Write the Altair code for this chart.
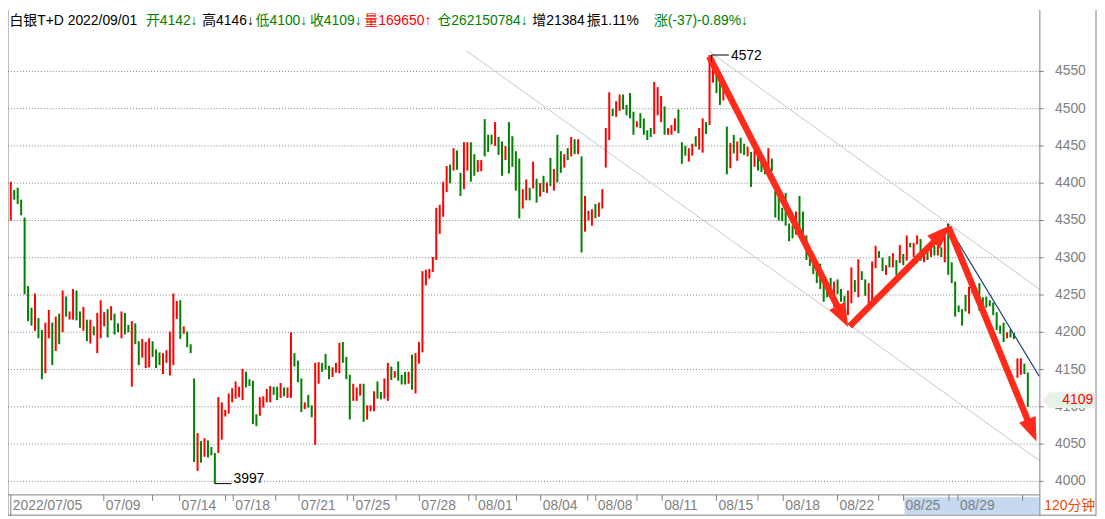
import math
import altair as alt
import pandas as pd

# ---------------- data ----------------
HIGH = [4402,4391,4394,4378,4354,4262,4233,4252,4219,4203,
        4213,4230,4213,4221,4225,4256,4248,4228,4258,4256,
        4228,4234,4217,4217,4208,4226,4243,4227,4231,4235,
        4225,4212,4228,4226,4210,4215,4212,4188,4191,4187,
        4192,4188,4177,4173,4172,4176,4201,4252,4242,4243,
        4208,4201,4184,4138,4065,4054,4058,4055,4046,4038,
        4113,4106,4096,4118,4125,4134,4127,4151,4147,4137,
        4135,4090,4113,4114,4124,4128,4127,4127,4132,4126,
        4126,4200,4172,4162,4138,4106,4116,4102,4159,4160,
        4159,4171,4155,4153,4159,4186,4187,4167,4143,4131,
        4126,4131,4131,4102,4102,4121,4134,4120,4138,4159,
        4154,4148,4161,4143,4147,4147,4170,4172,4187,4282,
        4284,4285,4301,4367,4371,4402,4423,4425,4447,4444,
        4414,4455,4455,4455,4439,4431,4431,4486,4465,4465,
        4482,4462,4456,4450,4482,4463,4443,4433,4392,4405,
        4394,4429,4406,4400,4410,4401,4434,4419,4465,4443,
        4439,4447,4462,4459,4459,4436,4383,4363,4365,4372,
        4374,4392,4474,4522,4500,4510,4519,4519,4505,4521,
        4496,4483,4494,4487,4471,4474,4536,4529,4517,4503,
        4474,4478,4487,4499,4455,4450,4447,4453,4463,4474,
        4487,4482,4572,4561,4548,4540,4528,4476,4454,4465,
        4456,4461,4453,4449,4442,4444,4442,4432,4428,4447,
        4433,4390,4387,4367,4387,4346,4343,4362,4383,4362,
        4330,4309,4296,4293,4292,4270,4263,4273,4268,4271,
        4258,4249,4256,4287,4270,4298,4282,4271,4266,4295,
        4316,4309,4300,4290,4302,4306,4297,4317,4305,4330,
        4320,4320,4330,4325,4313,4310,4313,4316,4326,4314,
        4330,4346,4294,4268,4236,4231,4250,4261,4266,4256,
        4266,4247,4248,4243,4240,4227,4209,4213,4200,4204,
        4199,4165,4165,4158,4146]
LOW = [4350,4378,4372,4357,4251,4215,4209,4202,4192,4137,
       4145,4192,4156,4175,4184,4200,4221,4217,4217,4216,
       4206,4202,4188,4185,4196,4172,4192,4208,4193,4216,
       4197,4200,4192,4197,4200,4127,4184,4156,4166,4152,
       4153,4167,4152,4156,4144,4159,4142,4156,4218,4191,
       4198,4180,4172,4026,4014,4025,4033,4032,4035,3997,
       4038,4056,4087,4091,4106,4111,4113,4109,4126,4128,
       4077,4074,4088,4099,4106,4106,4116,4109,4112,4114,
       4112,4112,4154,4133,4093,4097,4099,4086,4049,4131,
       4147,4150,4137,4140,4146,4145,4159,4137,4083,4108,
       4108,4115,4080,4083,4094,4094,4111,4110,4111,4108,
       4136,4139,4135,4130,4130,4131,4123,4118,4158,4173,
       4263,4272,4281,4297,4332,4355,4388,4400,4417,4418,
       4383,4392,4417,4402,4410,4415,4416,4436,4442,4452,
       4450,4438,4410,4431,4413,4422,4390,4353,4366,4377,
       4377,4393,4374,4382,4388,4387,4396,4390,4401,4414,
       4421,4431,4436,4439,4439,4307,4335,4350,4343,4353,
       4355,4366,4421,4458,4490,4489,4497,4499,4491,4487,
       4465,4475,4474,4465,4458,4462,4466,4491,4482,4465,
       4465,4465,4470,4467,4426,4437,4429,4437,4449,4445,
       4441,4466,4478,4535,4521,4505,4511,4412,4420,4440,
       4430,4440,4438,4436,4395,4422,4417,4415,4412,4412,
       4416,4354,4350,4349,4343,4322,4326,4331,4335,4333,
       4297,4289,4278,4266,4258,4241,4247,4249,4234,4251,
       4241,4235,4223,4239,4254,4247,4270,4249,4237,4237,
       4286,4300,4282,4277,4287,4287,4277,4293,4290,4296,
       4314,4301,4318,4296,4294,4297,4301,4303,4303,4301,
       4294,4277,4266,4221,4227,4209,4228,4225,4252,4243,
       4229,4227,4233,4235,4223,4203,4198,4187,4192,4193,
       4191,4139,4143,4144,4100]
# r = rising (red), g = falling (green)
DIRECTION = list(
    "rggggggrgg" "rrgrgrgrrg" "grgrgrrrgr" "ggrggrggrr" "rgggrrrrrg"
    "rgggrgrggg" "rrrrrrrrgg" "ggrrrrggrg" "rrgggrggrr" "gggrrrgggr"
    "rrgrrrggrr" "grgggrgrrr" "rrrrrrrgrg" "grrggrrggg" "rggrggggrr"
    "grgrgrgrgg" "rgrgrgrrrg" "rrrrgrrggg" "grggggrrrg" "rrrgggrrgr"
    "rgrrggrgrg" "rggrgrgggr" "gggggggrgg" "ggggggggrg" "ggrrgrggrr"
    "rggrgrgrgr" "grrgrgrgrg" "rggggggrrg" "ggggggggrg" "grrgg")

Y_TICKS = [4000, 4050, 4100, 4150, 4200, 4250, 4300, 4350, 4400, 4450, 4500, 4550]
X_LABELS = ["2022/07/05", "07/09", "07/14", "07/18", "07/21", "07/25", "07/28", "08/01",
            "08/04", "08/08", "08/11", "08/15", "08/18", "08/22", "08/25", "08/29"]
X_LABEL_POS = [0.0, 26.9, 48.8, 64.3, 83.3, 99.1, 118.1, 134.5,
               153.2, 169.1, 188.3, 204.0, 223.3, 239.0, 258.1, 273.8]
X_TICK_POS = [26.9, 41.0, 48.8, 62.1, 64.3, 76.6, 83.3, 97.3, 99.1, 111.4, 118.1,
              132.4, 134.5, 146.2, 153.2, 166.8, 169.1, 181.0, 188.3, 204.0, 216.0,
              223.3, 239.0, 250.9, 258.1, 271.2, 273.8, 292.5]

HEADER_TEXT = ["白银T+D 2022/09/01", "开4142↓", "高4146↓", "低4100↓", "收4109↓",
               "量169650↑", "仓262150784↓", "增21384", "振1.11%", "涨(-37)-0.89%↓"]
HEADER_COLOR = ["#000000", "#008000", "#000000", "#008000", "#008000",
                "#ff0000", "#008000", "#000000", "#000000", "#008000"]
HEADER_X = [3, 141, 198, 252, 307, 362, 436, 532, 587, 655]

LAST_PRICE = 4109
PEAK = (202, 4572)
TROUGH = (59, 3997)
# trend lines (bar index, price)
GRAY_LINES = [(131.6, 4578, 297.6, 4027), (201.6, 4578, 297.6, 4257)]
BLUE_LINE = [(270.7, 4345, 297.3, 4141)]
ARROWS = [(201.9, 4570, 242.06, 4207), (242.5, 4208, 271.6, 4343.6), (271.1, 4341, 296.5, 4053.5)]

# ---------------- layout helpers ----------------
W, H = 1097, 511
KX, KY = 0.99564, 0.99512
FONT = "Liberation Sans, Arial, Noto Sans CJK SC"
GRAY = "#808080"


def cx(xr):
    return (xr - 1.5) * KX


def cy(yr):
    return (yr - 6.0) * KY


def px_i(i):
    return cx(4.3 + 3.5 * i)


def py_v(v):
    return cy(68.3 + (4550 - v) * 0.75455)


def i_px(p):
    return (p / KX + 1.5 - 4.3) / 3.5


def v_py(p):
    return 4550 - ((p / KY + 6.0) - 68.3) / 0.75455


X_DOM = [i_px(0), i_px(W)]
Y_DOM = [v_py(H), v_py(0)]
XS = alt.Scale(domain=X_DOM, nice=False, zero=False)
YS = alt.Scale(domain=Y_DOM, nice=False, zero=False)


def X(f):
    return alt.X(f, type="quantitative", scale=XS, axis=None)


def Y(f):
    return alt.Y(f, type="quantitative", scale=YS, axis=None)


one = pd.DataFrame({"a": [0]})

# ---------------- layers ----------------
bars = pd.DataFrame({"i": list(range(len(HIGH))), "h": HIGH, "l": LOW, "c": DIRECTION})

grid = alt.Chart(pd.DataFrame({"v": Y_TICKS})).mark_rule(
    color=GRAY, strokeDash=[1, 2], strokeWidth=1).encode(
    y=Y("v"), x=alt.value(cx(1.5)), x2=alt.value(cx(1045.3)))

gl = pd.DataFrame(GRAY_LINES, columns=["i0", "v0", "i1", "v1"])
gray_lines = alt.Chart(gl).mark_rule(color="#c8c8c8", strokeWidth=1).encode(
    x=X("i0"), y=Y("v0"), x2=alt.X2("i1"), y2=alt.Y2("v1"))

bar_layer = alt.Chart(bars).mark_rule(strokeWidth=2).encode(
    x=X("i"), y=Y("l"), y2=alt.Y2("h"),
    color=alt.Color("c:N", scale=alt.Scale(domain=["r", "g"], range=["#ff0000", "#008000"]), legend=None))

bl = pd.DataFrame(BLUE_LINE, columns=["i0", "v0", "i1", "v1"])
blue_line = alt.Chart(bl).mark_rule(color="#1a3a80", strokeWidth=1.2).encode(
    x=X("i0"), y=Y("v0"), x2=alt.X2("i1"), y2=alt.Y2("v1"))

# arrows
HEAD = 24.0
shafts, heads = [], []
for (i0, v0, i1, v1) in ARROWS:
    x0, y0, x1, y1 = px_i(i0), py_v(v0), px_i(i1), py_v(v1)
    dx, dy = x1 - x0, y1 - y0
    n = math.hypot(dx, dy)
    ux, uy = dx / n, dy / n
    sx, sy = x1 - ux * HEAD * 0.75, y1 - uy * HEAD * 0.75
    hx, hy = x1 - ux * HEAD / 2, y1 - uy * HEAD / 2
    ang = math.degrees(math.atan2(dx, -dy)) % 360
    shafts.append({"i0": i0, "v0": v0, "i1": i_px(sx), "v1": v_py(sy)})
    heads.append({"i": i_px(hx), "v": v_py(hy), "ang": ang})
ARROW_RED = "#ff2a1a"
shaft_layer = alt.Chart(pd.DataFrame(shafts)).mark_rule(
    color=ARROW_RED, strokeWidth=6.5, strokeCap="butt").encode(
    x=X("i0"), y=Y("v0"), x2=alt.X2("i1"), y2=alt.Y2("v1"))
head_layer = alt.Chart(pd.DataFrame(heads)).mark_point(
    shape="M0,-1L0.75,1L-0.75,1Z", filled=True, color=ARROW_RED, opacity=1,
    size=HEAD * HEAD, strokeWidth=0).encode(
    x=X("i"), y=Y("v"), angle=alt.Angle("ang:Q", scale=None))

# peak / trough markers
pk = pd.DataFrame({"i0": [PEAK[0] + 0.57], "i1": [PEAK[0] + 5.6], "v": [PEAK[1]], "vb": [PEAK[1] - 9]})
peak_h = alt.Chart(pk).mark_rule(color="#000000", strokeWidth=1).encode(
    x=X("i0"), x2=alt.X2("i1"), y=Y("v"))
peak_v = alt.Chart(pk).mark_rule(color="#000000", strokeWidth=1).encode(
    x=X("i0"), y=Y("v"), y2=alt.Y2("vb"))
peak_t = alt.Chart(pd.DataFrame({"i": [PEAK[0] + 5.6], "v": [PEAK[1] - 1], "t": [str(PEAK[1])]})).mark_text(
    align="left", baseline="middle", dx=2, fontSize=14, font=FONT, color="#000000").encode(
    x=X("i"), y=Y("v"), text="t:N")
tr = pd.DataFrame({"i0": [TROUGH[0] - 0.03], "i1": [TROUGH[0] + 4.8], "v": [TROUGH[1]]})
trough_h = alt.Chart(tr).mark_rule(color="#000000", strokeWidth=1).encode(
    x=X("i0"), x2=alt.X2("i1"), y=Y("v"))
trough_t = alt.Chart(pd.DataFrame({"i": [TROUGH[0] + 4.8], "v": [TROUGH[1]], "t": [str(TROUGH[1])]})).mark_text(
    align="left", baseline="alphabetic", dx=2, dy=-1, fontSize=14, font=FONT, color="#000000").encode(
    x=X("i"), y=Y("v"), text="t:N")

# frame lines
vlines = pd.DataFrame({"x": [cx(1.5), cx(4.3), cx(1045.5), cx(1102.3)],
                       "y0": [cy(6), cy(497), cy(6), cy(6)],
                       "y1": [cy(518), cy(518), cy(518), cy(518)]})
frame_v = alt.Chart(vlines).mark_rule(color=GRAY, strokeWidth=1).encode(
    x=alt.X("x:Q", scale=None), y=alt.Y("y0:Q", scale=None), y2="y1:Q")
hlines = pd.DataFrame({"y": [cy(497), cy(517.5)], "x0": [cx(1.5), cx(1.5)], "x1": [cx(1045.5), cx(1102.3)]})
frame_h = alt.Chart(hlines).mark_rule(color=GRAY, strokeWidth=1).encode(
    y=alt.Y("y:Q", scale=None), x=alt.X("x0:Q", scale=None), x2="x1:Q")

# right axis
ytick = alt.Chart(pd.DataFrame({"v": Y_TICKS})).mark_rule(color=GRAY, strokeWidth=1).encode(
    y=Y("v"), x=alt.value(cx(1045.5)), x2=alt.value(cx(1049.5)))
ylab = alt.Chart(pd.DataFrame({"v": Y_TICKS, "t": [str(v) for v in Y_TICKS]})).mark_text(
    align="right", baseline="middle", fontSize=14, font=FONT, color=GRAY).encode(
    y=Y("v"), x=alt.value(cx(1092)), text="t:N")

# last price tag
tag_rect = alt.Chart(pd.DataFrame({"v": [LAST_PRICE]})).mark_rect(color="#e8f3e8").encode(
    x=alt.value(cx(1055)), x2=alt.value(cx(1101.5)), y=Y("v"), yOffset=alt.value(-8), y2=alt.value(0))
tag_rect = alt.Chart(pd.DataFrame({"v0": [LAST_PRICE + 10.6], "v1": [LAST_PRICE - 10.6]})).mark_rect(
    color="#e8f3e8").encode(x=alt.value(cx(1055)), x2=alt.value(cx(1101.5)), y=Y("v0"), y2=alt.Y2("v1"))
tag_tri = alt.Chart(pd.DataFrame({"v": [LAST_PRICE]})).mark_point(
    shape="M-1,0L0,-1L0,1Z", filled=True, color="#e8f3e8", opacity=1, size=256, strokeWidth=0).encode(
    y=Y("v"), x=alt.value(cx(1055.5)))
tag_text = alt.Chart(pd.DataFrame({"v": [LAST_PRICE], "t": [str(LAST_PRICE)]})).mark_text(
    align="right", baseline="middle", fontSize=14, font=FONT, color="#ff0000").encode(
    y=Y("v"), x=alt.value(cx(1099.5)), text="t:N")

# bottom axis
hl = alt.Chart(one).mark_rect(color="#c5d9f1").encode(
    x=alt.value(cx(908.5)), x2=alt.value(cx(1045)), y=alt.value(cy(499.5)), y2=alt.value(cy(516.5)))
xtick = alt.Chart(pd.DataFrame({"i": X_TICK_POS})).mark_rule(color=GRAY, strokeWidth=1).encode(
    x=X("i"), y=alt.value(cy(497)), y2=alt.value(cy(503)))
xlab = alt.Chart(pd.DataFrame({"i": X_LABEL_POS, "t": X_LABELS})).mark_text(
    align="left", baseline="middle", dx=2, fontSize=14, font=FONT, color=GRAY).encode(
    x=X("i"), y=alt.value(cy(508)), text="t:N")
period = alt.Chart(pd.DataFrame({"t": ["120分钟"]})).mark_text(
    align="left", baseline="middle", fontSize=14, font=FONT, color="#f04800").encode(
    x=alt.value(cx(1050)), y=alt.value(cy(508)), text="t:N")

# header
hdr = pd.DataFrame({"t": HEADER_TEXT, "c": HEADER_COLOR, "x": [cx(v) for v in HEADER_X]})
header = alt.Chart(hdr).mark_text(align="left", baseline="middle", fontSize=14, font=FONT).encode(
    x=alt.X("x:Q", scale=None), y=alt.value(cy(17)), text="t:N",
    color=alt.Color("c:N", scale=None))

chart = alt.layer(
    grid, hl, gray_lines, bar_layer, blue_line, shaft_layer, head_layer,
    peak_h, peak_v, peak_t, trough_h, trough_t,
    frame_v, frame_h, ytick, ylab, tag_rect, tag_tri, tag_text,
    xtick, xlab, period, header
).properties(
    width=W, height=H, padding=0, autosize=alt.AutoSizeParams(type="none"),
    background="#ffffff"
).configure_view(stroke=None)

chart.save("out.html", embed_options={"renderer": "svg", "actions": False})
